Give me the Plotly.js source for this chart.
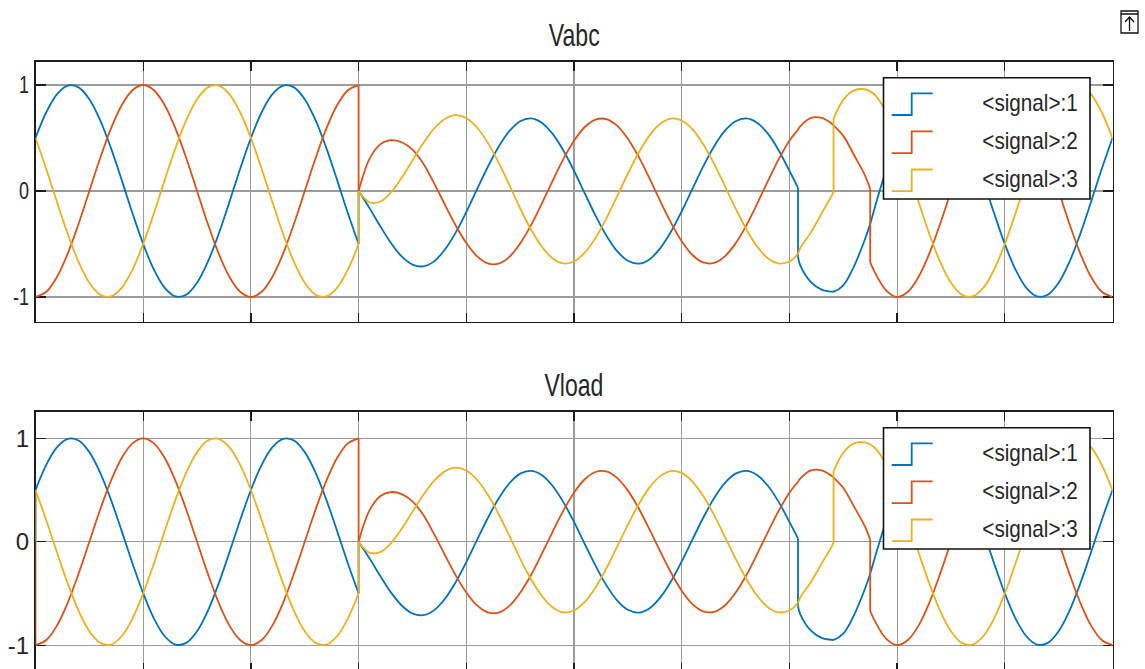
<!DOCTYPE html>
<html>
<head>
<meta charset="utf-8">
<script src="https://cdn.plot.ly/plotly-3.0.1.min.js"></script>
<style>
  html, body { margin: 0; padding: 0; background: #ffffff; overflow: hidden; }
  #frame { width: 1145px; height: 669px; overflow: hidden; position: relative; }
  #scope { width: 1145px; height: 672px; }
</style>
</head>
<body>
<div id="frame"><div id="scope"></div></div>
<script>
// Sample times in milliseconds (duplicated instants carry the switching steps)
const timeMs = [0,1,2,3,4,5,6,7,8,9,10,11,12,13,14,15,16,17,18,19,20,21,22,23,24,25,26,27,28,29,30,30,
  31,32,33,34,35,36,37,38,39,40,41,42,43,44,45,46,47,48,49,50,51,52,53,54,55,56,57,58,59,60,
  61,62,63,64,65,66,67,68,69,70,70.8,70.8,71,72,73,74,74.1,74.1,75,76,77,77.5,77.5,
  78,79,80,81,82,83,84,85,86,87,88,89,90,91,92,93,94,95,96,97,98,99,100];

// Phase voltages (per unit)
const phaseA = [0.5,0.743,0.914,0.995,0.978,0.866,0.669,0.407,0.105,-0.208,-0.5,-0.743,-0.914,-0.995,-0.978,-0.866,-0.669,-0.407,-0.105,0.208,
  0.5,0.743,0.914,0.995,0.978,0.866,0.669,0.407,0.105,-0.208,
  -0.5,0,
  -0.159,-0.330,-0.490,-0.617,-0.694,-0.711,-0.664,-0.554,-0.395,-0.198,0.017,0.229,0.418,0.565,
  0.658,0.685,0.645,0.541,0.385,0.191,-0.022,-0.232,-0.420,-0.567,-0.658,-0.685,-0.645,-0.541,-0.385,-0.191,0.022,0.232,0.420,0.567,0.658,0.685,0.645,0.541,0.385,0.191,
  0.03,-0.62,
  -0.70,-0.86,-0.93,-0.95,
  -0.95,-0.95,
  -0.89,-0.71,-0.46,
  -0.31,-0.31,
  -0.13,0.208,
  0.5,0.743,0.914,0.995,0.978,0.866,0.669,0.407,0.105,-0.208,-0.5,-0.743,-0.914,-0.995,-0.978,-0.866,-0.669,-0.407,-0.105,0.208,
  0.5];

const phaseB = [-1,-0.951,-0.809,-0.588,-0.309,0,0.309,0.588,0.809,0.951,1,0.951,0.809,0.588,0.309,0,-0.309,-0.588,-0.809,-0.951,
  -1,-0.951,-0.809,-0.588,-0.309,0,0.309,0.588,0.809,0.951,
  1,0,
  0.30,0.44,0.48,0.46,0.39,0.260,0.075,-0.126,-0.322,-0.491,-0.616,-0.683,-0.685,-0.621,
  -0.494,-0.324,-0.121,0.093,0.298,0.474,0.604,0.674,0.679,0.617,0.494,0.324,0.121,-0.093,-0.298,-0.474,-0.604,-0.674,-0.679,-0.617,-0.494,-0.324,-0.121,0.093,0.298,0.474,
  0.58,0.58,
  0.61,0.69,0.69,0.63,
  0.62,0.62,
  0.52,0.34,0.15,
  0.02,-0.67,
  -0.78,-0.94,
  -1,-0.951,-0.809,-0.588,-0.309,0,0.309,0.588,0.809,0.951,1,0.951,0.809,0.588,0.309,0,-0.309,-0.588,-0.809,-0.951,
  -1];

const phaseC = [0.5,0.208,-0.105,-0.407,-0.669,-0.866,-0.978,-0.995,-0.914,-0.743,-0.5,-0.208,0.105,0.407,0.669,0.866,0.978,0.995,0.914,0.743,
  0.5,0.208,-0.105,-0.407,-0.669,-0.866,-0.978,-0.995,-0.914,-0.743,
  -0.5,0,
  -0.106,-0.101,-0.014,0.125,0.289,0.451,0.588,0.680,0.716,0.689,0.599,0.454,0.268,0.056,
  -0.163,-0.361,-0.523,-0.634,-0.683,-0.665,-0.582,-0.442,-0.259,-0.050,0.163,0.361,0.523,0.634,0.683,0.665,0.582,0.442,0.259,0.050,-0.163,-0.361,-0.523,-0.634,-0.683,-0.665,
  -0.59,-0.59,
  -0.54,-0.39,-0.21,-0.03,
  0.0,0.68,
  0.86,0.95,0.96,
  0.94,0.94,
  0.90,0.743,
  0.5,0.208,-0.105,-0.407,-0.669,-0.866,-0.978,-0.995,-0.914,-0.743,-0.5,-0.208,0.105,0.407,0.669,0.866,0.978,0.995,0.914,0.743,
  0.5];

// The load measurement starts from zero before the first step
const loadInitialTime = [0];
const loadInitialValues = [0, 0, 0];

const signalNames = ['<signal>:1', '<signal>:2', '<signal>:3'];
const signalColors = ['#0072BD', '#D95319', '#EDB120'];
const panelTitles = ['Vabc', 'Vload'];
const gridTimes = [0,10,20,30,40,50,60,70,80,90,100];
const yTickValues = [-1, 0, 1];
const yTickLabels = ['-1', '0', '1'];

// ---- page geometry (pixels of the figure) ----
const W = 1145, H = 672;
const px = p => p / W;
const py = p => 1 - p / H;
const esc = s => s.replace(/</g, '&lt;').replace(/>/g, '&gt;');

const plotLeft = 35.5, plotRight = 1112.5;
const panels = [
  { top: 61.7, bottom: 321.7, range: [-1.233, 1.22], xa: 'x', ya: 'y' },
  { top: 411.7, bottom: 671.7, range: [-1.257, 1.257], xa: 'x2', ya: 'y2' }
];

// Split a sampled signal into smooth stretches and the vertical switching steps
function splitSignal(times, values) {
  const smooth = { x: [], y: [] }, steps = { x: [], y: [] };
  for (let i = 0; i < times.length; i++) {
    if (i > 0 && times[i] === times[i - 1]) {
      if (values[i] === values[i - 1]) continue;
      smooth.x.push(null); smooth.y.push(null);
      steps.x.push(times[i - 1], times[i], null);
      steps.y.push(values[i - 1], values[i], null);
    }
    smooth.x.push(times[i]); smooth.y.push(values[i]);
  }
  return { smooth, steps };
}

const seriesValues = [phaseA, phaseB, phaseC];
const traces = [];
panels.forEach((p, k) => {
  seriesValues.forEach((vals, i) => {
    const xs = k === 0 ? timeMs : loadInitialTime.concat(timeMs);
    const ys = k === 0 ? vals : [loadInitialValues[i]].concat(vals);
    const parts = splitSignal(xs, ys);
    traces.push({
      x: parts.smooth.x, y: parts.smooth.y, xaxis: p.xa, yaxis: p.ya,
      type: 'scatter', mode: 'lines', name: esc(signalNames[i]), connectgaps: false,
      line: { color: signalColors[i], width: 1.8, shape: 'spline', smoothing: 1 },
      hoverinfo: 'skip', showlegend: false
    });
    traces.push({
      x: parts.steps.x, y: parts.steps.y, xaxis: p.xa, yaxis: p.ya,
      type: 'scatter', mode: 'lines', name: esc(signalNames[i]), connectgaps: false,
      line: { color: signalColors[i], width: 1.8 },
      hoverinfo: 'skip', showlegend: false
    });
  });
});

const axisInk = '#1c1c1c';
const gridInk = '#9c9c9c';
function xAxis(anchor) {
  return {
    domain: [px(plotLeft), px(plotRight)], anchor: anchor, range: [0, 100],
    tickmode: 'array', tickvals: gridTimes, showticklabels: false,
    ticks: 'inside', ticklen: 9, tickwidth: 1.2, tickcolor: axisInk,
    showline: true, mirror: 'ticks', linecolor: axisInk, linewidth: 1.6,
    showgrid: true, gridcolor: gridInk, gridwidth: 1.1, zeroline: false,
    fixedrange: true, layer: 'below traces'
  };
}
function yAxis(anchor, p) {
  return {
    domain: [py(p.bottom), py(p.top)], anchor: anchor, range: p.range,
    tickmode: 'array', tickvals: yTickValues, ticktext: yTickLabels,
    ticks: 'inside', ticklen: 10, tickwidth: 1.2, tickcolor: axisInk,
    tickfont: { family: 'Liberation Sans, Arial, sans-serif', size: 24, color: '#262626' },
    showline: true, mirror: 'ticks', linecolor: axisInk, linewidth: 1.6,
    showgrid: true, gridcolor: gridInk, gridwidth: 1.1, zeroline: false,
    fixedrange: true, layer: 'below traces'
  };
}

const shapes = [];
const annotations = [];
panels.forEach((p, k) => {
  const dy = p.top - 61.7;
  // title
  annotations.push({
    text: panelTitles[k], xref: 'paper', yref: 'paper',
    x: px((plotLeft + plotRight) / 2), y: py(35 + dy),
    xanchor: 'center', yanchor: 'middle', showarrow: false,
    font: { family: 'Liberation Sans, Arial, sans-serif', size: 32, color: '#262626' }
  });
  // legend box
  shapes.push({
    type: 'rect', xref: 'paper', yref: 'paper',
    x0: px(883.5), x1: px(1090), y0: py(77.7 + dy), y1: py(199 + dy),
    fillcolor: '#ffffff', line: { color: '#111111', width: 1.6 }, layer: 'above'
  });
  signalNames.forEach((name, i) => {
    const top = 93.3 + i * 38.1 + dy, bot = top + 21.7;
    shapes.push({
      type: 'path', xref: 'paper', yref: 'paper', layer: 'above',
      path: `M ${px(891.7)},${py(bot)} L ${px(911.7)},${py(bot)} L ${px(911.7)},${py(top)} L ${px(932.7)},${py(top)}`,
      line: { color: signalColors[i], width: 1.8 }
    });
    annotations.push({
      text: esc(name), xref: 'paper', yref: 'paper',
      x: px(1030), y: py(103 + i * 37.8 + dy),
      xanchor: 'center', yanchor: 'middle', showarrow: false,
      font: { family: 'Liberation Sans, Arial, sans-serif', size: 23, color: '#262626' }
    });
  });
});

// undock button in the top right corner
shapes.push({ type: 'rect', xref: 'paper', yref: 'paper', x0: px(1121), x1: px(1138), y0: py(33), y1: py(11),
  line: { color: '#111111', width: 1.3 }, fillcolor: 'rgba(0,0,0,0)' });
shapes.push({ type: 'path', xref: 'paper', yref: 'paper',
  path: `M ${px(1129.5)},${py(31)} L ${px(1129.5)},${py(17)} M ${px(1125)},${py(22)} L ${px(1129.5)},${py(17)} L ${px(1134)},${py(22)} M ${px(1121)},${py(14)} L ${px(1138)},${py(14)}`,
  line: { color: '#111111', width: 1.3 } });

const layout = {
  width: W, height: H,
  margin: { l: 0, r: 0, t: 0, b: 0 },
  paper_bgcolor: '#ffffff', plot_bgcolor: '#ffffff',
  showlegend: false,
  xaxis: xAxis('y'), yaxis: yAxis('x', panels[0]),
  xaxis2: xAxis('y2'), yaxis2: yAxis('x2', panels[1]),
  shapes: shapes, annotations: annotations
};

// narrow the glyphs horizontally around their anchor point
function narrow(el, s) {
  const x = parseFloat(el.getAttribute('x')) || 0;
  const t = el.getAttribute('transform') || '';
  el.setAttribute('transform', `${t} translate(${x},0) scale(${s},1) translate(${-x},0)`);
}

Plotly.newPlot('scope', traces, layout, { staticPlot: true, displayModeBar: false }).then(() => {
  document.querySelectorAll('#scope .ytick text').forEach(el => narrow(el, 0.75));
  document.querySelectorAll('#scope .annotation-text').forEach(el => {
    const isTitle = panelTitles.indexOf(el.textContent) >= 0;
    narrow(el, isTitle ? 0.72 : 0.9);
  });
});
</script>
</body>
</html>
